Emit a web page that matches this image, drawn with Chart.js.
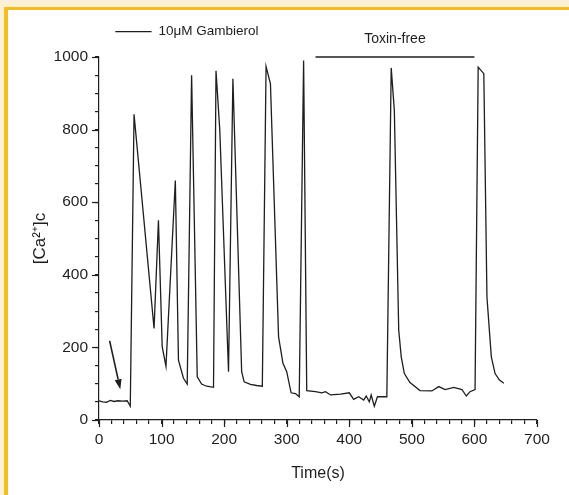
<!DOCTYPE html>
<html><head><meta charset="utf-8">
<script src="https://cdn.jsdelivr.net/npm/chart.js@4/dist/chart.umd.min.js"></script>
<style>
html,body{margin:0;padding:0;}
body{width:569px;height:495px;background:#FDF0D6;position:relative;overflow:hidden;}
#frame{position:absolute;left:4px;top:7px;width:561px;height:485px;background:#fff;border-left:4px solid #F6BD1F;border-top:3px solid #F6BD1F;}
#wrap{position:absolute;left:0;top:0;width:569px;height:495px;}
</style></head><body>
<div id="frame"></div>
<div id="wrap"><canvas id="c" width="569" height="495"></canvas></div>
<script>
// Time (s)
const timeS = [0,6,12,18,24,30,38,45,48,50,56,88,95,101,107,122,127,135,141,148,157,164,172,183,187,193,207,214,228,232,242,252,261,267,274,287,294,300,307,314,320,327,332,346,356,362,370,386,400,407,415,423,427,432,435,440,445,460,467,472,479,483,488,497,513,532,543,553,567,580,587,593,601,606,615,620,627,633,640,647];
// [Ca2+]c
const calcium = [53,50,49,54,51,53,52,53,44,38,842,252,550,202,148,660,165,115,99,950,119,99,93,90,962,800,133,940,133,105,98,95,93,974,926,229,156,133,75,73,64,990,81,78,75,78,69,71,75,57,64,55,66,50,69,38,64,64,970,853,248,174,128,103,81,80,92,84,90,84,66,78,84,972,954,339,174,128,110,101];
const xTicks = [0,100,200,300,400,500,600,700];
const yTicks = [0,200,400,600,800,1000];
const gambierolLabel = '10\u03bcM Gambierol';
const gambierolBar = [26, 84];      // time span of bar
const toxinFreeLabel = 'Toxin-free';
const toxinFreeBar = [346, 600];    // time span of bar
const arrowFrom = [17, 218];        // [time, Ca]
const arrowTo = [34, 85];

const FONT = '"Liberation Sans", Arial, Helvetica, sans-serif';
const INK = '#1e1e1e';

const annot = {
  id: 'annot',
  afterDraw(chart) {
    const {ctx, scales: {x, y}} = chart;
    ctx.save();
    ctx.strokeStyle = INK; ctx.fillStyle = INK; ctx.lineWidth = 1.2;
    // major ticks (longer)
    const x0 = x.left, yb = y.bottom;
    xTicks.forEach(v => { const px = Math.round(x.getPixelForValue(v)) + 0.5; ctx.beginPath(); ctx.moveTo(px, yb); ctx.lineTo(px, yb + 7); ctx.stroke(); });
    yTicks.forEach(v => { const py = Math.round(y.getPixelForValue(v)) + 0.5; ctx.beginPath(); ctx.moveTo(x0 - 7, py); ctx.lineTo(x0, py); ctx.stroke(); });
    // Gambierol bar
    const gy = y.getPixelForValue(1070);
    ctx.beginPath(); ctx.moveTo(x.getPixelForValue(gambierolBar[0]), gy); ctx.lineTo(x.getPixelForValue(gambierolBar[1]), gy); ctx.stroke();
    ctx.font = '13.5px ' + FONT; ctx.textBaseline = 'middle'; ctx.textAlign = 'left';
    ctx.fillText(gambierolLabel, x.getPixelForValue(gambierolBar[1]) + 7, gy);
    // Toxin-free bar
    const ty = y.getPixelForValue(1000);
    ctx.lineWidth = 1.4;
    ctx.beginPath(); ctx.moveTo(x.getPixelForValue(toxinFreeBar[0]), ty); ctx.lineTo(x.getPixelForValue(toxinFreeBar[1]), ty); ctx.stroke();
    ctx.font = '14px ' + FONT; ctx.textAlign = 'center';
    ctx.fillText(toxinFreeLabel, x.getPixelForValue((toxinFreeBar[0] + toxinFreeBar[1]) / 2), y.getPixelForValue(1050));
    // arrow
    const ax1 = x.getPixelForValue(arrowFrom[0]), ay1 = y.getPixelForValue(arrowFrom[1]);
    const ax2 = x.getPixelForValue(arrowTo[0]), ay2 = y.getPixelForValue(arrowTo[1]);
    const ang = Math.atan2(ay2 - ay1, ax2 - ax1);
    const hl = 10, hw = 3.5;
    const bx = ax2 - hl * Math.cos(ang), by = ay2 - hl * Math.sin(ang);
    ctx.lineWidth = 1.6;
    ctx.beginPath(); ctx.moveTo(ax1, ay1); ctx.lineTo(bx, by); ctx.stroke();
    ctx.beginPath();
    ctx.moveTo(ax2, ay2);
    ctx.lineTo(bx + hw * Math.sin(ang), by - hw * Math.cos(ang));
    ctx.lineTo(bx - hw * Math.sin(ang), by + hw * Math.cos(ang));
    ctx.closePath(); ctx.fill();
    ctx.restore();
  }
};

new Chart(document.getElementById('c'), {
  type: 'line',
  data: {
    datasets: [{
      data: timeS.map((t, i) => ({x: t, y: calcium[i]})),
      borderColor: INK, borderWidth: 1.3, pointRadius: 0, tension: 0, fill: false
    }]
  },
  options: {
    responsive: false, animation: false, devicePixelRatio: 1,
    layout: {padding: {top: 57, right: 32, left: 0, bottom: 0}},
    plugins: {legend: {display: false}, tooltip: {enabled: false}},
    scales: {
      x: {
        type: 'linear', min: 0, max: 700,
        afterFit: s => { s.height = 75; },
        grid: {drawOnChartArea: false, drawTicks: true, tickLength: 4, color: INK, tickColor: INK, lineWidth: 1.2},
        border: {display: true, color: INK, width: 1.2},
        ticks: {stepSize: 20, autoSkip: false, maxRotation: 0, padding: 6, color: INK,
          font: {family: FONT, size: 15.5},
          callback: v => (v % 100 === 0 ? String(v) : '')},
        title: {display: true, text: 'Time(s)', color: INK, font: {family: FONT, size: 16}, padding: {bottom: 12}}
      },
      y: {
        min: 0, max: 1000,
        afterFit: s => { s.width = 99; },
        grid: {drawOnChartArea: false, drawTicks: true, tickLength: 4, color: INK, tickColor: INK, lineWidth: 1.2},
        border: {display: true, color: INK, width: 1.2},
        ticks: {stepSize: 50, autoSkip: false, padding: 7, color: INK,
          font: {family: FONT, size: 15.5},
          callback: v => (v % 200 === 0 ? String(v) : '')},
        title: {display: true, text: '[Ca\u00b2\u207a]c', color: INK, font: {family: FONT, size: 17}, padding: {top: 30}}
      }
    }
  },
  plugins: [annot]
});
</script>
</body></html>
